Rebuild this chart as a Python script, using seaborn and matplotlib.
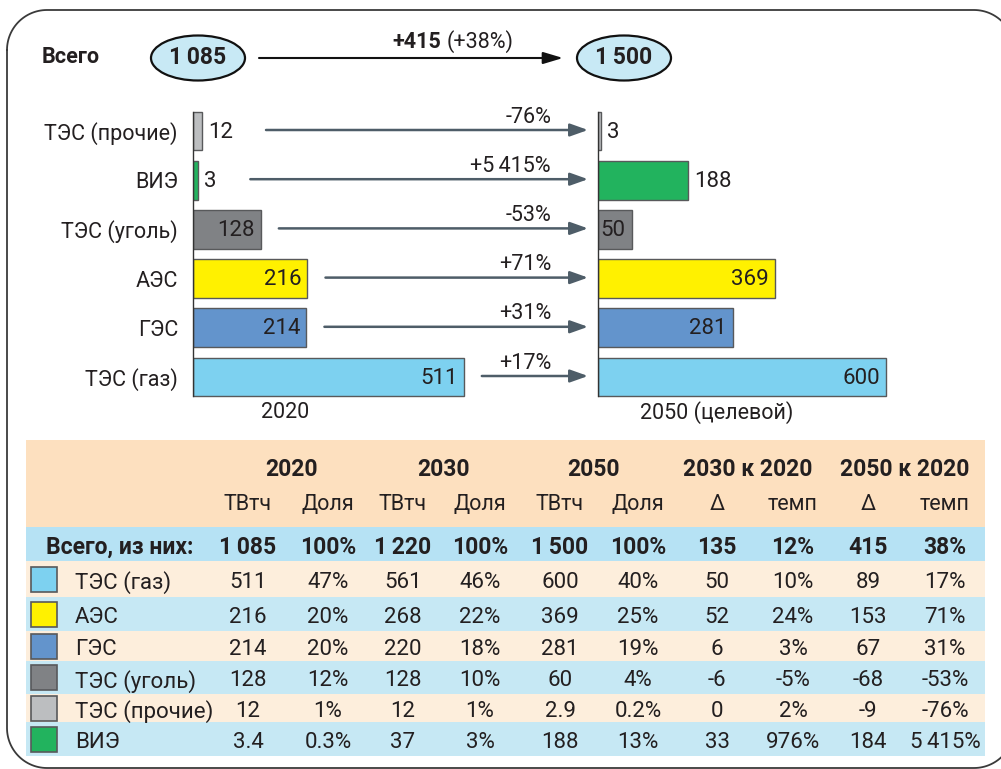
import numpy as np
import pandas as pd
import matplotlib
matplotlib.use("Agg")
import matplotlib.pyplot as plt
import seaborn as sns
from matplotlib.patches import Ellipse, Rectangle

# ---------------- data ----------------
categories = ["ТЭС (газ)", "АЭС", "ГЭС", "ТЭС (уголь)", "ТЭС (прочие)", "ВИЭ"]
bar_order = ["ТЭС (прочие)", "ВИЭ", "ТЭС (уголь)", "АЭС", "ГЭС", "ТЭС (газ)"]
colors = ["#7dd1f0", "#fff100", "#6394cc", "#808285", "#bcbec0", "#22b35e"]
bars_2020 = [511, 216, 214, 128, 17, 10]
bars_2050 = [600, 369, 281, 70, 6, 188]
labels_2020 = ["511", "216", "214", "128", "12", "3"]
labels_2050 = ["600", "369", "281", "50", "3", "188"]
change_labels = ["+17%", "+71%", "+31%", "-53%", "-76%", "+5\u2009415%"]
label_outside = ["ТЭС (прочие)", "ВИЭ"]

total_title = "Всего"
total_2020 = "1\u2009085"
total_2050 = "1\u2009500"
total_change = "+415"
total_change_pct = "(+38%)"
panel_titles = ["2020", "2050 (целевой)"]

group_headers = ["2020", "2030", "2050", "2030 к 2020", "2050 к 2020"]
sub_headers = ["ТВтч", "Доля", "ТВтч", "Доля", "ТВтч", "Доля", "Δ", "темп", "Δ", "темп"]
total_row_label = "Всего, из них:"
total_row = ["1\u2009085", "100%", "1\u2009220", "100%", "1\u2009500", "100%", "135", "12%", "415", "38%"]
twh_2020 = ["511", "216", "214", "128", "12", "3.4"]
share_2020 = ["47%", "20%", "20%", "12%", "1%", "0.3%"]
twh_2030 = ["561", "268", "220", "128", "12", "37"]
share_2030 = ["46%", "22%", "18%", "10%", "1%", "3%"]
twh_2050 = ["600", "369", "281", "60", "2.9", "188"]
share_2050 = ["40%", "25%", "19%", "4%", "0.2%", "13%"]
delta_30 = ["50", "52", "6", "-6", "0", "33"]
rate_30 = ["10%", "24%", "3%", "-5%", "2%", "976%"]
delta_50 = ["89", "153", "67", "-68", "-9", "184"]
rate_50 = ["17%", "71%", "31%", "-53%", "-76%", "5\u2009415%"]
table_cols = [twh_2020, share_2020, twh_2030, share_2030, twh_2050, share_2050,
              delta_30, rate_30, delta_50, rate_50]

# ---------------- style ----------------
sns.set_theme(style="white")
plt.rcParams["font.family"] = ["Roboto", "DejaVu Sans"]
TXT = "#231f20"
EDGE = "#58595b"
ARROW = "#4e5d68"

W, H = 1001, 769
fig = plt.figure(figsize=(W / 100, H / 100), dpi=100)
fig.patch.set_facecolor("white")

ov = fig.add_axes([0, 0, 1, 1], zorder=0)
ov.set_xlim(0, W)
ov.set_ylim(H, 0)
ov.axis("off")


def px_axes(x0, y0, x1, y1, z=2):
    a = fig.add_axes([x0 / W, 1 - y1 / H, (x1 - x0) / W, (y1 - y0) / H], zorder=z)
    a.patch.set_alpha(0)
    return a


def to_px(ax, x, y):
    dx, dy = ax.transData.transform((x, y))
    return dx, H - dy


# outer rounded frame (right side runs off the canvas)
fl, ft, fr, fb, rad = 7, 10, 1014, 768, 40
t = np.linspace(0, np.pi / 2, 30)
xs = np.concatenate([fl + rad - rad * np.cos(t), fr - rad + rad * np.sin(t),
                     fr - rad + rad * np.cos(t), fl + rad - rad * np.sin(t)])
ys = np.concatenate([ft + rad - rad * np.sin(t), ft + rad - rad * np.cos(t),
                     fb - rad + rad * np.sin(t), fb - rad + rad * np.cos(t)])
xs = np.append(xs, xs[0])
ys = np.append(ys, ys[0])
ov.plot(xs, ys, color="#3a3a3a", lw=1.3, solid_joinstyle="round")

# ---------------- bars ----------------
df = pd.DataFrame({"cat": categories, "v2020": bars_2020, "v2050": bars_2050})
palette = dict(zip(categories, colors))
row_top, row_bot = 106.4, 401.6

axL = px_axes(193, row_top, 193 + 300, row_bot)
axR = px_axes(598, row_top, 598 + 330, row_bot)
for ax, col, xmax in [(axL, "v2020", 300 / 0.53), (axR, "v2050", 330 / 0.48)]:
    sns.barplot(data=df, x=col, y="cat", hue="cat", order=bar_order, hue_order=categories,
                palette=palette, width=0.79, edgecolor=EDGE, linewidth=1.0,
                legend=False, ax=ax, saturation=1)
    ax.set_xlim(0, xmax)
    ax.set_ylim(len(bar_order) - 0.5, -0.5)
    ax.set_xlabel("")
    ax.set_ylabel("")
    ax.set_xticks([])
    for s in ["top", "right", "bottom"]:
        ax.spines[s].set_visible(False)
    ax.spines["left"].set_color("#333333")
    ax.spines["left"].set_linewidth(1.0)
    ax.spines["left"].set_bounds(-0.395, len(bar_order) - 0.605)
    ax.tick_params(axis="y", length=0, pad=10.8, labelsize=15.5, labelcolor=TXT)

axR.set_yticklabels([])

lab20 = dict(zip(categories, labels_2020))
lab50 = dict(zip(categories, labels_2050))
val20 = dict(zip(categories, bars_2020))
val50 = dict(zip(categories, bars_2050))
chg = dict(zip(categories, change_labels))

for i, cat in enumerate(bar_order):
    for ax, vals, labs in [(axL, val20, lab20), (axR, val50, lab50)]:
        v = vals[cat]
        if cat in label_outside:
            ax.annotate(labs[cat], xy=(v, i), xytext=(6, -1), textcoords="offset pixels",
                        ha="left", va="center", fontsize=16, color=TXT)
        else:
            ax.annotate(labs[cat], xy=(v, i), xytext=(-6, -1), textcoords="offset pixels",
                        ha="right", va="center", fontsize=16, color=TXT)
    # arrow between panels
    ex, ey = to_px(axL, val20[cat], i)
    if cat in label_outside:
        sx = ex + 6 + 12 * len(lab20[cat]) + 34
    else:
        sx = ex + 18
    tipx = to_px(axR, 0, i)[0] - 10
    ov.annotate("", xy=(tipx, ey - 1), xytext=(sx, ey - 1),
                arrowprops=dict(arrowstyle="-|>,head_length=0.9,head_width=0.32",
                                color=ARROW, lw=1.8, shrinkA=0, shrinkB=0))
    ov.text(551, ey - 14, chg[cat], ha="right", va="center", fontsize=15.5, color=TXT)

ov.text(285, 413, panel_titles[0], ha="center", va="center", fontsize=15.5, color=TXT)
ov.text(717, 413, panel_titles[1], ha="center", va="center", fontsize=15.5, color=TXT)

# ---------------- totals line ----------------
ov.text(42, 57, total_title, ha="left", va="center", fontsize=15.5, fontweight="bold", color=TXT)
for cx, tt in [(198, total_2020), (624, total_2050)]:
    ov.add_patch(Ellipse((cx, 58), 94, 45, facecolor="#c8e9f5", edgecolor="#111111", lw=1.6))
    ov.text(cx, 58, tt, ha="center", va="center", fontsize=16.5, fontweight="bold", color=TXT)
ov.annotate("", xy=(563, 58), xytext=(259, 58),
            arrowprops=dict(arrowstyle="-|>,head_length=1.0,head_width=0.3",
                            color="#111111", lw=1.5, shrinkA=0, shrinkB=0))
ov.text(441, 42, total_change, ha="right", va="center", fontsize=15.5, fontweight="bold", color=TXT)
ov.text(447, 42, total_change_pct, ha="left", va="center", fontsize=15.5, color=TXT)

# ---------------- table ----------------
tx0, tx1 = 26, 985
col_x = [248, 328, 403, 480, 560, 638, 717, 793, 868, 945]
group_x = [291, 443, 594, 748, 905]
ov.add_patch(Rectangle((tx0, 440), tx1 - tx0, 87, facecolor="#fde0bf", edgecolor="none"))
ov.add_patch(Rectangle((tx0, 527), tx1 - tx0, 34, facecolor="#b6e2f4", edgecolor="none"))
row_edges = [561, 597, 631, 661, 694, 722, 756]
row_bg = ["#fdeedc", "#c6e8f4"]

for gx, g in zip(group_x, group_headers):
    ov.text(gx, 469, g, ha="center", va="center", fontsize=16.5, fontweight="bold", color=TXT)
for cx, s in zip(col_x, sub_headers):
    ov.text(cx, 505, s, ha="center", va="center", fontsize=15.5, color=TXT)
ov.text(46, 545, total_row_label, ha="left", va="center_baseline", fontsize=16.5,
        fontweight="bold", color=TXT)
for cx, s in zip(col_x, total_row):
    ov.text(cx, 545, s, ha="center", va="center_baseline", fontsize=16.5, fontweight="bold", color=TXT)

for r, cat in enumerate(categories):
    y0, y1 = row_edges[r], row_edges[r + 1]
    yc = (y0 + y1) / 2
    ov.add_patch(Rectangle((tx0, y0), tx1 - tx0, y1 - y0, facecolor=row_bg[r % 2], edgecolor="none"))
    ov.add_patch(Rectangle((31, yc - 12.5), 26, 25, facecolor=colors[r], edgecolor=EDGE, lw=1.2))
    ov.text(75, yc + 1, cat, ha="left", va="center_baseline", fontsize=16, color=TXT)
    for cx, colvals in zip(col_x, table_cols):
        ov.text(cx, yc + 1, colvals[r], ha="center", va="center_baseline", fontsize=16, color=TXT)

fig.savefig("out.png", dpi=100, facecolor="white")
